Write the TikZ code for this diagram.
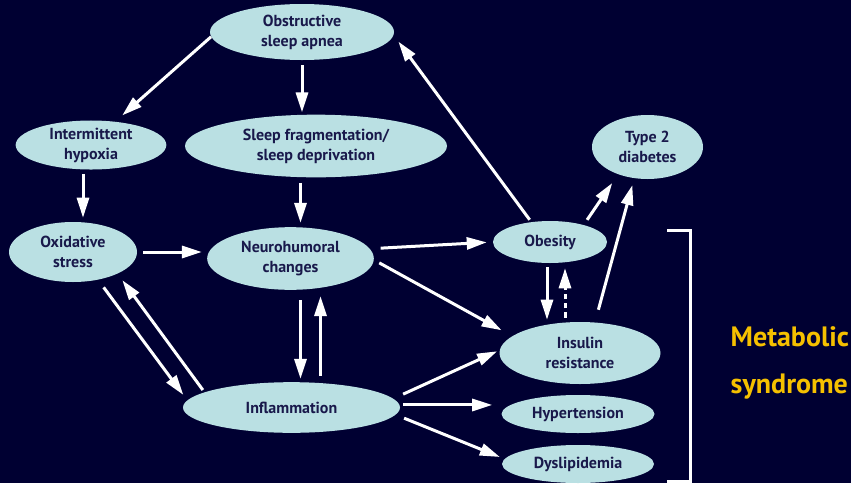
\documentclass[tikz,border=0pt]{standalone}
\usepackage{fontspec}
\setmainfont{PT Sans}
\usepackage{tikz}
\usetikzlibrary{shapes.geometric,arrows.meta,positioning}
\definecolor{navybg}{RGB}{0,0,50}
\definecolor{paleblue}{RGB}{186,224,227}
\definecolor{inkblue}{RGB}{25,25,75}
\definecolor{gold}{RGB}{245,192,0}

\begin{document}
\begin{tikzpicture}[x=0.75pt, y=-0.75pt]
   \path[use as bounding box, fill=navybg] (0,0) rectangle (851,483);
   \begin{scope}[every node/.style={ellipse,fill=paleblue,text=inkblue,inner sep=0pt,align=center,font=\bfseries\fontsize{12}{15}\selectfont}]
    \node[minimum width=138pt, minimum height=42pt] (osa) at (302, 32) {Obstructive\\sleep apnea};
    \node[minimum width=113pt, minimum height=34.5pt] (hyp) at (91, 145) {Intermittent\\hypoxia};
    \node[minimum width=196.5pt, minimum height=47pt] (sfd) at (316, 146) {Sleep fragmentation/\\sleep deprivation};
    \node[minimum width=96pt, minimum height=45pt] (oxs) at (73, 252) {Oxidative\\stress};
    \node[minimum width=125pt, minimum height=47pt] (neu) at (290.5, 258.5) {Neurohumoral\\changes};
    \node[minimum width=162.75pt, minimum height=38pt] (inf) at (291.5, 407.5) {Inflammation};
    \node[minimum width=85.5pt, minimum height=31.5pt] (obe) at (550, 242) {Obesity};
    \node[minimum width=83.25pt, minimum height=48pt] (t2d) at (647.5, 147) {Type 2\\diabetes};
    \node[minimum width=120.75pt, minimum height=46.5pt] (ins) at (580, 353) {Insulin\\resistance};
    \node[minimum width=114.75pt, minimum height=28.5pt] (hyt) at (578, 414) {Hypertension};
    \node[minimum width=114pt, minimum height=28.5pt] (dys) at (578, 464) {Dyslipidemia};
   \end{scope}
   \begin{scope}[every edge/.style={draw=white,line width=2.25pt,-{Triangle[length=15pt,width=9pt]}}]
    \draw (osa.183) edge[shorten >=7pt] (hyp.44);
    \draw (osa.south) edge[shorten <=3.75pt, shorten >=1.5pt] (osa.south |- sfd.north);
    \draw ([xshift=-6pt]hyp.south) edge[shorten <=3pt, shorten >=3pt] ([xshift=-6pt]hyp.south |- oxs.north);
    \draw ([xshift=7.5pt]neu.north |- sfd.south) edge[shorten <=4pt, shorten >=3pt] ([xshift=7.5pt]neu.north);
    \draw (oxs.east) edge[shorten <=4.5pt, shorten >=3.75pt] (oxs.east -| neu.west);
    \draw (oxs.-48) edge[shorten <=7pt, shorten >=5pt] (inf.176);
    \draw (inf.170) edge[shorten <=2pt, shorten >=6pt] (oxs.-26);
    \draw ([xshift=7.5pt]neu.south) edge[shorten <=7.5pt, shorten >=2.25pt] ([xshift=7.5pt]neu.south |- inf.north);
    \draw ([xshift=22.5pt]neu.south |- inf.north) edge[shorten <=4.5pt, shorten >=4.5pt] ([xshift=22.5pt]neu.south);
    \draw (neu.7) edge[shorten <=8pt, shorten >=4.5pt] (obe.180);
    \draw (neu.-1) edge[shorten <=4.5pt, shorten >=9pt] (ins.166);
    \draw (obe.133) edge[shorten <=2pt, shorten >=6pt] (osa.-2);
    \draw (obe.27) edge[shorten <=4.5pt, shorten >=7.8pt] (t2d.223);
    \draw (ins.64) edge[shorten <=9.75pt, shorten >=5.3pt] (t2d.247);
    \draw ([xshift=-2.25pt]obe.south) edge[shorten <=3pt, shorten >=1.5pt] ([xshift=-2.25pt]obe.south |- ins.north);
    \draw ([xshift=11.25pt]obe.south |- ins.north) edge[dash pattern=on 4pt off 3pt, shorten <=3pt, shorten >=3.75pt] ([xshift=11.25pt]obe.south);
    \draw (inf.5) edge[shorten <=8pt, shorten >=2pt] (ins.178.5);
    \draw ([yshift=1.9pt]inf.east) edge[shorten <=2.25pt, shorten >=6.75pt] ([yshift=1.9pt]inf.east -| hyt.west);
    \draw (inf.-4) edge[shorten <=6.75pt, shorten >=3.75pt] (dys.176);
   \end{scope}
   % bracket round the metabolic syndrome group
   \draw[white, line width=2.25pt] (667,230) -| (690,481) -- (667,481);
   \node[anchor=west, text=gold, align=left, font=\bfseries\fontsize{21}{35}\selectfont] (metsyn) at (726, 363) {Metabolic\\syndrome};
\end{tikzpicture}
\end{document}
